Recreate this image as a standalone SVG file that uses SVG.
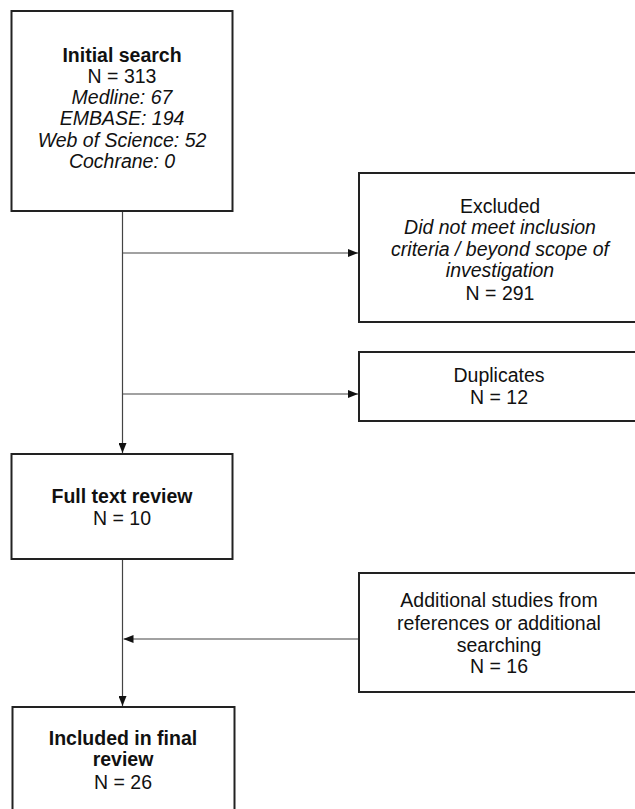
<svg xmlns="http://www.w3.org/2000/svg" width="635" height="809" viewBox="0 0 635 809">
<style>
.box{fill:#fff;stroke:#222;stroke-width:2}
.t{font-family:"Liberation Sans",Arial,sans-serif;font-size:19.5px;fill:#111;text-anchor:middle}
.b{font-weight:bold}
.i{font-style:italic}
.c{stroke:#444;stroke-width:1.2;fill:none}
</style>
<defs>
<marker id="ah" viewBox="0 0 10 8" refX="10" refY="4" markerWidth="10" markerHeight="8" markerUnits="userSpaceOnUse" orient="auto">
<path d="M0,0 L10,4 L0,8 Z" fill="#111"/>
</marker>
</defs>
<rect width="635" height="809" fill="#fff"/>
<g id="connectors">
<line class="c" x1="122.5" y1="211" x2="122.5" y2="453" marker-end="url(#ah)"/>
<line class="c" x1="122.5" y1="253" x2="358" y2="253" marker-end="url(#ah)"/>
<line class="c" x1="122.5" y1="394" x2="358" y2="394" marker-end="url(#ah)"/>
<line class="c" x1="122.5" y1="559" x2="122.5" y2="706" marker-end="url(#ah)"/>
<line class="c" x1="359" y1="639" x2="123.5" y2="639" marker-end="url(#ah)"/>
</g>
<g id="initial">
<rect class="box" x="11.5" y="11" width="221" height="200"/>
<text class="t b" x="122" y="62">Initial search</text>
<text class="t" x="122" y="83">N = 313</text>
<text class="t i" x="122" y="104">Medline: 67</text>
<text class="t i" x="122" y="125">EMBASE: 194</text>
<text class="t i" x="122" y="147">Web of Science: 52</text>
<text class="t i" x="122" y="168">Cochrane: 0</text>
</g>
<g id="excluded">
<rect class="box" x="359" y="173" width="282" height="149"/>
<text class="t" x="500" y="213">Excluded</text>
<text class="t i" x="500" y="234">Did not meet inclusion</text>
<text class="t i" x="500" y="256">criteria / beyond scope of</text>
<text class="t i" x="500" y="277">investigation</text>
<text class="t" x="500" y="300">N = 291</text>
</g>
<g id="duplicates">
<rect class="box" x="359" y="352" width="282" height="69"/>
<text class="t" x="499" y="382">Duplicates</text>
<text class="t" x="499" y="404">N = 12</text>
</g>
<g id="fulltext">
<rect class="box" x="11.5" y="454" width="221" height="105"/>
<text class="t b" x="122" y="503">Full text review</text>
<text class="t" x="122" y="525">N = 10</text>
</g>
<g id="additional">
<rect class="box" x="359" y="573" width="282" height="119"/>
<text class="t" x="499" y="607">Additional studies from</text>
<text class="t" x="499" y="630">references or additional</text>
<text class="t" x="499" y="652">searching</text>
<text class="t" x="499" y="673">N = 16</text>
</g>
<g id="included">
<rect class="box" x="12.5" y="707" width="222" height="110"/>
<text class="t b" x="123" y="745">Included in final</text>
<text class="t b" x="123" y="766">review</text>
<text class="t" x="123" y="789">N = 26</text>
</g>
</svg>
